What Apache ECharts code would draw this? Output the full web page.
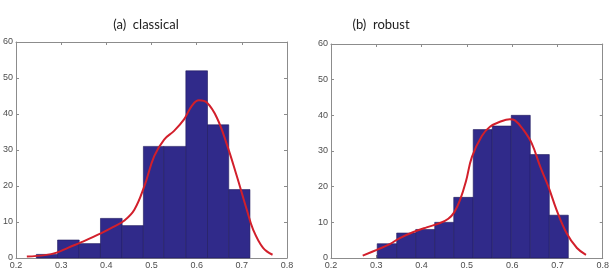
<!DOCTYPE html>
<html>
<head>
<meta charset="utf-8">
<script src="https://cdn.jsdelivr.net/npm/echarts@6/dist/echarts.min.js"></script>
<style>
  html, body { margin: 0; padding: 0; background: #fff; }
  #chart { width: 612px; height: 275px; }
</style>
</head>
<body>
<div id="chart"></div>
<script>
// panel titles
const panelTitles = ["(a)  classical", "(b)  robust"];

// tick labels
const xTicks = ["0.2", "0.3", "0.4", "0.5", "0.6", "0.7", "0.8"];
const yTicks = ["0", "10", "20", "30", "40", "50", "60"];

// (a) classical histogram: bin edges and counts
const leftEdges = [0.245, 0.292, 0.340, 0.387, 0.435, 0.482, 0.527, 0.576, 0.624, 0.671, 0.718];
const leftCounts = [1, 5, 4, 11, 9, 31, 31, 52, 37, 19];

// (b) robust histogram: bin edges and counts
const rightEdges = [0.302, 0.345, 0.387, 0.429, 0.471, 0.514, 0.556, 0.598, 0.640, 0.682, 0.724];
const rightCounts = [4, 7, 8, 10, 17, 36, 37, 40, 29, 12];

// fitted density curves (scaled to counts)
const leftCurve = [
  [0.224, 0.4], [0.264, 0.8], [0.29, 1.5], [0.316, 2.9], [0.345, 4.4], [0.389, 6.9],
  [0.418, 8.8], [0.44, 10.4], [0.462, 13.4], [0.484, 19.9], [0.506, 28.3], [0.528, 32.9],
  [0.55, 35.3], [0.572, 38.5], [0.59, 42.4], [0.605, 43.8], [0.623, 43.1], [0.645, 38.9],
  [0.667, 31.5], [0.689, 22.7], [0.711, 13.4], [0.725, 7.9], [0.747, 2.8], [0.768, 0.9]
];
const rightCurve = [
  [0.27, 0.65], [0.301, 2.3], [0.33, 3.9], [0.352, 5.6], [0.382, 7.3], [0.411, 8.6],
  [0.441, 9.8], [0.459, 11.0], [0.472, 12.8], [0.485, 16.3], [0.498, 21.5], [0.511, 28.3],
  [0.533, 34.2], [0.551, 36.8], [0.573, 38.2], [0.595, 38.9], [0.606, 38.6], [0.625, 35.9],
  [0.643, 32.2], [0.662, 25.6], [0.68, 20.0], [0.698, 13.5], [0.72, 7.0], [0.743, 2.8],
  [0.763, 0.9]
];

const chart = echarts.init(document.getElementById("chart"));

const boxColor = "#8c8c8c";
const labelColor = "#4d4d4d";
const barColor = "#302a8a";
const curveColor = "#d21f2b";

const histData = (edges, counts) => counts.map((c, i) => [edges[i], edges[i + 1], c]);

const renderBin = (params, api) => {
  const p0 = api.coord([api.value(0), api.value(2)]);
  const p1 = api.coord([api.value(1), 0]);
  return {
    type: "rect",
    shape: { x: p0[0], y: p0[1], width: p1[0] - p0[0], height: p1[1] - p0[1] },
    style: { fill: barColor, stroke: "#1f1a5c", lineWidth: 0.6 },
  };
};

const grids = [
  { left: 14, right: 325, top: 42, bottom: 17 },
  { left: 331, right: 9, top: 44, bottom: 17 },
];

const xAxes = [];
const yAxes = [];
grids.forEach((g, i) => {
  const common = {
    gridIndex: i,
    axisLine: { show: true, onZero: false, lineStyle: { color: boxColor, width: 1 } },
    axisTick: { show: true, inside: true, length: 3, lineStyle: { color: boxColor } },
    splitLine: { show: false },
  };
  xAxes.push({
    ...common, type: "value", position: "bottom", min: 0.2, max: 0.8, interval: 0.1,
    axisLabel: {
      color: labelColor, fontSize: 9, fontFamily: "Liberation Sans", margin: 3,
      formatter: (v) => xTicks[Math.round((v - 0.2) * 10)],
    },
  });
  xAxes.push({
    ...common, type: "value", position: "top", min: 0.2, max: 0.8, interval: 0.1,
    axisLabel: { show: false },
  });
  yAxes.push({
    ...common, type: "value", position: "left", min: 0, max: 60, interval: 10,
    axisLabel: {
      color: labelColor, fontSize: 9, fontFamily: "Liberation Sans", margin: 3,
      formatter: (v) => yTicks[Math.round(v / 10)],
    },
  });
  yAxes.push({
    ...common, type: "value", position: "right", min: 0, max: 60, interval: 10,
    axisLabel: { show: false },
  });
});

chart.setOption({
  animation: false,
  title: [
    { text: panelTitles[0], left: 141, top: 13, textAlign: "center",
      textStyle: { fontSize: 13, fontWeight: "normal", color: "#222", fontFamily: "Lato" } },
    { text: panelTitles[1], left: 376, top: 13, textAlign: "center",
      textStyle: { fontSize: 13, fontWeight: "normal", color: "#222", fontFamily: "Lato" } },
  ],
  grid: grids,
  xAxis: xAxes,
  yAxis: yAxes,
  series: [
    { type: "custom", xAxisIndex: 0, yAxisIndex: 0, renderItem: renderBin,
      data: histData(leftEdges, leftCounts), z: 2 },
    { type: "line", xAxisIndex: 0, yAxisIndex: 0, data: leftCurve, smooth: 0.4,
      showSymbol: false, lineStyle: { color: curveColor, width: 2 }, z: 3 },
    { type: "custom", xAxisIndex: 2, yAxisIndex: 2, renderItem: renderBin,
      data: histData(rightEdges, rightCounts), z: 2 },
    { type: "line", xAxisIndex: 2, yAxisIndex: 2, data: rightCurve, smooth: 0.4,
      showSymbol: false, lineStyle: { color: curveColor, width: 2 }, z: 3 },
  ],
});
</script>
</body>
</html>
